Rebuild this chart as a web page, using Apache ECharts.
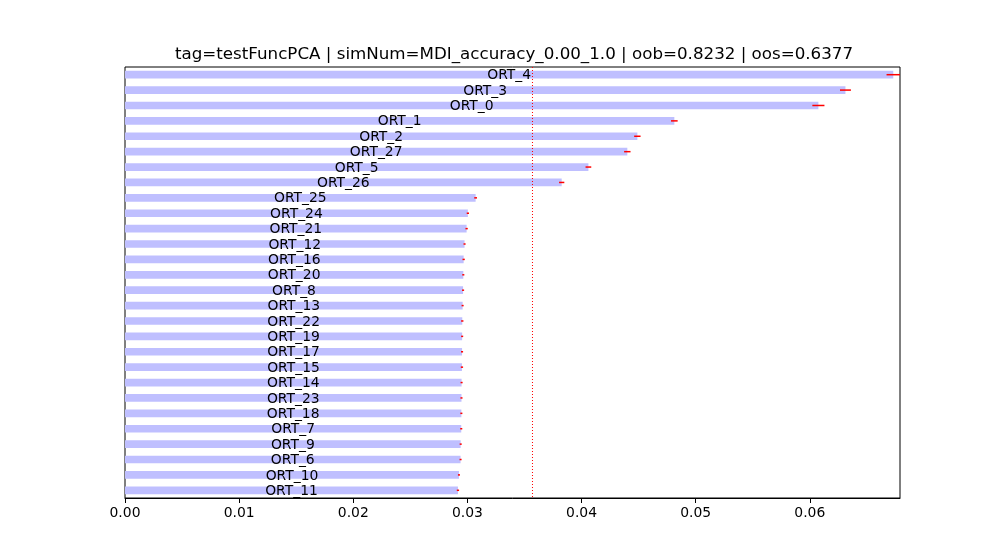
<!DOCTYPE html>
<html>
<head>
<meta charset="utf-8">
<script src="https://cdn.jsdelivr.net/npm/echarts@6/dist/echarts.min.js"></script>
<style>
html,body{margin:0;padding:0;background:#fff;}
#chart{width:1000px;height:560px;}
</style>
</head>
<body>
<div id="chart"></div>
<script>
const titleText = 'tag=testFuncPCA | simNum=MDI_accuracy_0.00_1.0 | oob=0.8232 | oos=0.6377';
const categories = ['ORT_4','ORT_3','ORT_0','ORT_1','ORT_2','ORT_27','ORT_5','ORT_26','ORT_25','ORT_24','ORT_21','ORT_12','ORT_16','ORT_20','ORT_8','ORT_13','ORT_22','ORT_19','ORT_17','ORT_15','ORT_14','ORT_23','ORT_18','ORT_7','ORT_9','ORT_6','ORT_10','ORT_11'];
const meanValues = [0.06731,0.06312,0.06075,0.04813,0.04489,0.04401,0.04060,0.03826,0.03072,0.03004,0.02993,0.02975,0.02967,0.02964,0.02962,0.02958,0.02955,0.02954,0.02953,0.02952,0.02949,0.02948,0.02947,0.02946,0.02941,0.02940,0.02926,0.02917];
const stdValues = [0.00059,0.00048,0.00053,0.00029,0.00028,0.00028,0.00025,0.00023,0.00012,0.00010,0.00010,0.00009,0.00010,0.00009,0.00009,0.00009,0.00010,0.00009,0.00009,0.00010,0.00009,0.00009,0.00009,0.00009,0.00009,0.00009,0.00009,0.00010];
const meanThreshold = 0.0357;
const xTicks = [0, 0.01, 0.02, 0.03, 0.04, 0.05, 0.06];
const xMax = 0.0679;

const FONT = 'DejaVu Sans';
const chart = echarts.init(document.getElementById('chart'), null, {renderer: 'canvas'});

const errData = categories.map((c, i) => [i, meanValues[i] - stdValues[i], meanValues[i] + stdValues[i]]);

chart.setOption({
  animation: false,
  backgroundColor: '#ffffff',
  title: {
    text: titleText,
    left: 509,
    top: 41,
    textAlign: 'center',
    textStyle: {fontFamily: FONT, fontSize: 16.7, fontWeight: 'normal', color: '#000'}
  },
  grid: {
    left: 125, right: 100, top: 67, bottom: 62,
    show: true, borderColor: '#000', borderWidth: 1, backgroundColor: 'transparent'
  },
  xAxis: {
    type: 'value',
    min: 0,
    max: xMax,
    splitLine: {show: false},
    axisLine: {show: true, lineStyle: {color: '#000', width: 1}},
    axisTick: {show: true, length: 5, lineStyle: {color: '#000', width: 1}, customValues: xTicks},
    axisLabel: {
      customValues: xTicks,
      margin: 8,
      fontFamily: FONT, fontSize: 13.9, color: '#000',
      formatter: v => v.toFixed(2)
    }
  },
  yAxis: {
    type: 'category',
    data: categories,
    inverse: true,
    boundaryGap: true,
    axisLine: {show: false},
    axisTick: {show: false},
    axisLabel: {show: false},
    splitLine: {show: false}
  },
  series: [
    {
      type: 'bar',
      data: meanValues,
      barWidth: '50%',
      itemStyle: {color: '#bfbfff'},
      label: {
        show: true,
        position: 'inside',
        offset: [0, 1],
        formatter: '{b}',
        color: '#000',
        fontFamily: FONT,
        fontSize: 13.9,
        textBorderWidth: 0
      },
      z: 2
    },
    {
      type: 'custom',
      data: [[meanThreshold]],
      encode: {x: 0},
      z: 3,
      silent: true,
      renderItem: function (params, api) {
        const cs = params.coordSys;
        const x = api.coord([api.value(0), 0])[0];
        return {
          type: 'line',
          shape: {x1: x, y1: cs.y, x2: x, y2: cs.y + cs.height},
          style: {stroke: '#ff0000', lineWidth: 1, lineDash: [1, 2]}
        };
      }
    },
    {
      type: 'custom',
      data: errData,
      encode: {x: [1, 2], y: 0},
      z: 4,
      renderItem: function (params, api) {
        const y = api.value(0);
        const p1 = api.coord([api.value(1), y]);
        const p2 = api.coord([api.value(2), y]);
        return {
          type: 'line',
          shape: {x1: p1[0], y1: p1[1], x2: p2[0], y2: p2[1]},
          style: {stroke: '#ff0000', lineWidth: 1.5}
        };
      }
    }
  ]
});
</script>
</body>
</html>
